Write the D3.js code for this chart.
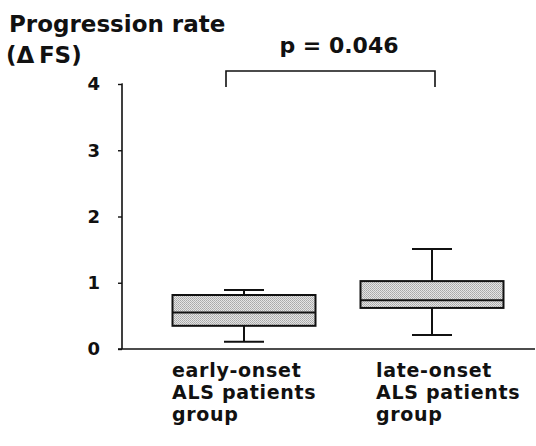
<!DOCTYPE html>
<html>
<head>
<meta charset="utf-8">
<script src="https://cdn.jsdelivr.net/npm/d3@7"></script>
<style>
  html, body { margin: 0; padding: 0; background: #fff; }
  svg { display: block; font-family: "DejaVu Sans", sans-serif; font-weight: bold; }
</style>
</head>
<body>
<div id="chart"></div>
<script>
// data
const groups = ["early-onset", "late-onset"];
const groupLabels = [
  ["early-onset", "ALS patients", "group"],
  ["late-onset", "ALS patients", "group"]
];
const whiskerLow = [0.11, 0.21];
const q1 = [0.35, 0.62];
const median = [0.55, 0.735];
const q3 = [0.815, 1.025];
const whiskerHigh = [0.89, 1.51];
const yTicks = [0, 1, 2, 3, 4];
const pLabel = "p = 0.046";

const width = 536, height = 446;

const svg = d3.select('#chart').append('svg')
  .attr('width', width)
  .attr('height', height);

// pattern for the stippled box fill
const defs = svg.append('defs');
const pat = defs.append('pattern')
  .attr('id', 'stipple')
  .attr('width', 2).attr('height', 2)
  .attr('patternUnits', 'userSpaceOnUse');
pat.append('rect').attr('width', 2).attr('height', 2).attr('fill', '#e4e4e4');
pat.append('rect').attr('x', 0).attr('y', 0).attr('width', 1).attr('height', 1).attr('fill', '#a8a8a8');
pat.append('rect').attr('x', 1).attr('y', 1).attr('width', 1).attr('height', 1).attr('fill', '#b4b4b4');

const axisX = 122;
const y = d3.scaleLinear().domain([0, 4]).range([349, 84]);
const x = d3.scalePoint().domain(groups).range([244, 432]);
const boxW = 143;
const capW = 40;

// y axis
const yAxis = svg.append('g')
  .attr('transform', `translate(${axisX},0)`)
  .call(d3.axisLeft(y).tickValues(yTicks).tickFormat(d3.format('d')).tickSize(4).tickPadding(18));
yAxis.select('.domain').attr('d', `M-0.5,${y(4)}H0V${y(0)}`).attr('stroke', '#111').attr('stroke-width', 1.6);
yAxis.selectAll('.tick line').attr('stroke', '#111').attr('stroke-width', 1.4);
yAxis.selectAll('.tick text')
  .attr('fill', '#111')
  .attr('font-size', '18px')
  .attr('font-family', '"DejaVu Sans", sans-serif')
  .attr('font-weight', 'bold');

// x axis baseline
svg.append('line')
  .attr('x1', axisX - 4).attr('x2', 535)
  .attr('y1', y(0)).attr('y2', y(0))
  .attr('stroke', '#111').attr('stroke-width', 1.6);

// boxes
groups.forEach((g, i) => {
  const cx = x(g);
  const grp = svg.append('g');
  // whiskers
  grp.append('line')
    .attr('x1', cx).attr('x2', cx)
    .attr('y1', y(whiskerHigh[i])).attr('y2', y(q3[i]))
    .attr('stroke', '#111').attr('stroke-width', 2);
  grp.append('line')
    .attr('x1', cx).attr('x2', cx)
    .attr('y1', y(q1[i])).attr('y2', y(whiskerLow[i]))
    .attr('stroke', '#111').attr('stroke-width', 2);
  [whiskerHigh[i], whiskerLow[i]].forEach(v => {
    grp.append('line')
      .attr('x1', cx - capW / 2).attr('x2', cx + capW / 2)
      .attr('y1', y(v)).attr('y2', y(v))
      .attr('stroke', '#111').attr('stroke-width', 2);
  });
  // box
  grp.append('rect')
    .attr('x', cx - boxW / 2)
    .attr('y', y(q3[i]))
    .attr('width', boxW)
    .attr('height', y(q1[i]) - y(q3[i]))
    .attr('fill', 'url(#stipple)')
    .attr('stroke', '#111')
    .attr('stroke-width', 2);
  // median
  grp.append('line')
    .attr('x1', cx - boxW / 2).attr('x2', cx + boxW / 2)
    .attr('y1', y(median[i])).attr('y2', y(median[i]))
    .attr('stroke', '#111').attr('stroke-width', 2);
});

// category labels, one text per line
const labelDx = [-72, -56];
groups.forEach((g, i) => {
  groupLabels[i].forEach((line, k) => {
    svg.append('text')
      .attr('x', x(g) + labelDx[i])
      .attr('y', 377 + k * 22)
      .attr('font-size', '19px')
      .attr('letter-spacing', '0.7px')
      .attr('fill', '#111')
      .text(line);
  });
});

// significance bracket
const bx0 = x(groups[0]) - 18, bx1 = x(groups[1]) + 3;
svg.append('path')
  .attr('d', `M${bx0},87V71H${bx1}V87`)
  .attr('fill', 'none')
  .attr('stroke', '#111')
  .attr('stroke-width', 1.6);
svg.append('text')
  .attr('x', 339)
  .attr('y', 53)
  .attr('text-anchor', 'middle')
  .attr('font-size', '22px')
  .attr('fill', '#111')
  .text(pLabel);

// y axis title
svg.append('text')
  .attr('x', 9)
  .attr('y', 32)
  .attr('font-size', '23px')
  .attr('fill', '#111')
  .text('Progression rate');
svg.append('text')
  .attr('x', 6)
  .attr('y', 63)
  .attr('font-size', '23px')
  .attr('fill', '#111')
  .text('(Δ\u2009FS)');
</script>
</body>
</html>
